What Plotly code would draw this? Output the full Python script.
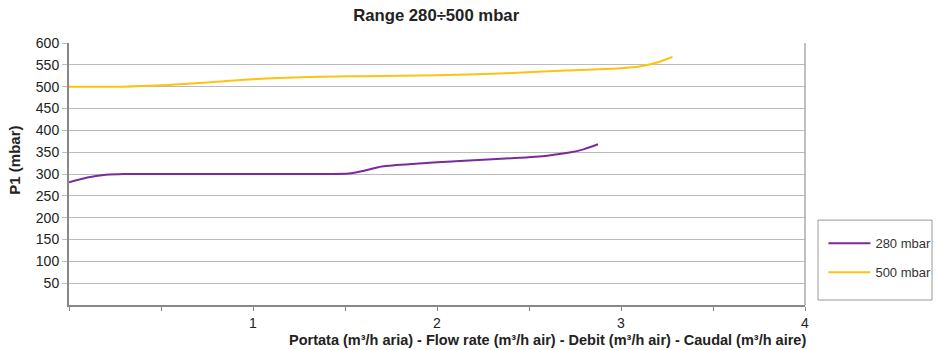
import plotly.graph_objects as go

title_text = "Range 280÷500 mbar"
x_title = "Portata (m³/h aria) - Flow rate (m³/h air) - Debit (m³/h air) - Caudal (m³/h aire)"
y_title = "P1 (mbar)"

s280_name = "280 mbar"
s280_x = [0.0, 0.1, 0.2, 0.3, 0.6, 1.0, 1.4, 1.52, 1.6, 1.7, 1.9, 2.1, 2.4, 2.6, 2.72, 2.8, 2.875]
s280_y = [281, 292, 298, 300, 300, 300, 300, 301, 307, 317, 324, 329, 336, 342, 349, 357, 368]

s500_name = "500 mbar"
s500_x = [0.0, 0.3, 0.5, 0.8, 1.0, 1.3, 1.6, 2.0, 2.34, 2.7, 3.0, 3.1, 3.2, 3.28]
s500_y = [500, 500, 503, 511, 517, 522, 524, 526, 530, 537, 542, 546, 556, 568]

x_tickvals = [0, 0.5, 1, 1.5, 2, 2.5, 3, 3.5, 4]
x_ticktext = ["", "", "1", "", "2", "", "3", "", "4"]
y_tickvals = [50, 100, 150, 200, 250, 300, 350, 400, 450, 500, 550, 600]

FONT = "Liberation Sans, Arial, sans-serif"
TXT = "#222"

fig = go.Figure()
fig.add_trace(go.Scatter(x=s280_x, y=s280_y, name=s280_name, mode="lines", legendgroup="a",
                         line=dict(color="#7B2A9A", width=2, shape="spline", smoothing=0.8)))
fig.add_trace(go.Scatter(x=s500_x, y=s500_y, name=s500_name, mode="lines", legendgroup="b",
                         line=dict(color="#FFC20E", width=2, shape="spline", smoothing=0.8)))

fig.update_layout(
    width=938, height=350,
    margin=dict(l=69, r=133, t=43, b=45, autoexpand=False),
    paper_bgcolor="white", plot_bgcolor="white",
    font=dict(family=FONT, size=14, color=TXT),
    title=dict(text="<b>" + title_text + "</b>", x=0.465, xanchor="center", xref="container",
               y=0.957, yanchor="middle", yref="container",
               font=dict(size=16.7, color=TXT)),
    showlegend=True,
    legend=dict(x=1.025, xanchor="left", y=0.18, yanchor="middle",
                traceorder="grouped", tracegroupgap=9,
                bordercolor="rgba(0,0,0,0)", borderwidth=0, bgcolor="rgba(0,0,0,0)",
                font=dict(size=13, color="#333"), itemwidth=42),
    xaxis=dict(range=[0, 4], tickvals=x_tickvals, ticktext=x_ticktext, automargin=False,
               showgrid=False, zeroline=False, showline=True, linecolor="#888", linewidth=2,
               mirror=False, ticks="outside", ticklen=4, tickcolor="#888",
               tickfont=dict(size=14, color=TXT)),
    yaxis=dict(range=[0, 600], tickvals=y_tickvals, automargin=False,
               showgrid=True, gridcolor="#bbb", gridwidth=1,
               zeroline=False, showline=True, linecolor="#888", linewidth=2,
               ticks="outside", ticklen=5, tickcolor="#bbb",
               tickfont=dict(size=14, color=TXT)),
    annotations=[
        dict(text="<b>" + x_title + "</b>", xref="paper", yref="paper", x=1.004, xanchor="right",
             y=-0.134, yanchor="middle", showarrow=False, font=dict(size=14.5, color=TXT)),
        dict(text="<b>" + y_title + "</b>", xref="paper", yref="paper", x=-0.074, xanchor="center",
             y=0.553, yanchor="middle", textangle=-90, showarrow=False, font=dict(size=15, color=TXT)),
    ],
)
# right border of plot area
fig.add_shape(type="line", xref="paper", yref="paper", x0=1, x1=1, y0=0, y1=1,
              line=dict(color="#aaa", width=1.5))
# legend frame
fig.add_shape(type="rect", xref="paper", yref="paper", x0=1.0177, x1=1.1726, y0=0.019, y1=0.324,
              line=dict(color="#999", width=1), fillcolor="rgba(0,0,0,0)", layer="above")

fig.write_html("out.html", config={"displayModeBar": False},
               post_script="document.body.style.margin='0';")
